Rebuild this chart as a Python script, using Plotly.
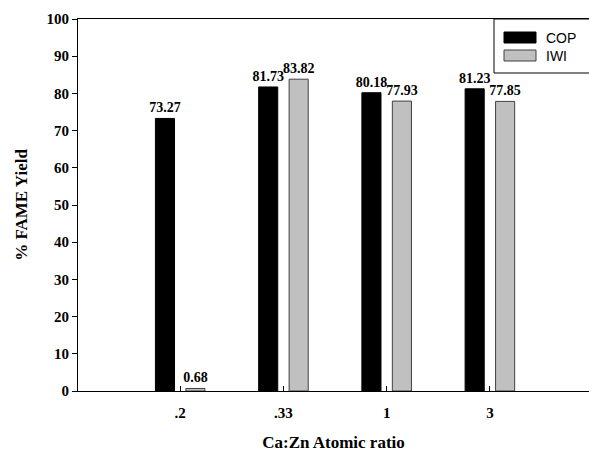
import plotly.graph_objects as go

categories = [".2", ".33", "1", "3"]
cop_values = [73.27, 81.73, 80.18, 81.23]
iwi_values = [0.68, 83.82, 77.93, 77.85]
series_names = ["COP", "IWI"]

W, H = 589, 452
L, R, T, B = 78, 0, 19, 61
pw, ph = W - L - R, H - T - B

def px_x(p):
    return (p - L) / pw

def px_y(p):
    return (H - B - p) / ph

serif = "Times New Roman, Liberation Serif, serif"
sans = "Arial, Liberation Sans, sans-serif"

fig = go.Figure()
fig.add_trace(go.Bar(
    x=categories, y=cop_values, name=series_names[0],
    marker=dict(color="black", line=dict(color="black", width=1)),
    width=0.185, offset=-0.24,
    text=[f"{v:.2f}" for v in cop_values], textposition="outside",
    constraintext="none",
    textfont=dict(family=serif, size=14, color="black", weight="bold"),
    cliponaxis=False, showlegend=False, hoverinfo="skip",
))
fig.add_trace(go.Bar(
    x=categories, y=iwi_values, name=series_names[1],
    marker=dict(color="#c0c0c0", line=dict(color="#404040", width=1)),
    width=0.185, offset=0.055,
    text=[f"{v:.2f}" for v in iwi_values], textposition="outside",
    constraintext="none",
    textfont=dict(family=serif, size=14, color="black", weight="bold"),
    cliponaxis=False, showlegend=False, hoverinfo="skip",
))

fig.update_layout(
    width=W, height=H,
    margin=dict(l=L, r=R, t=T, b=B, pad=0, autoexpand=False),
    plot_bgcolor="white", paper_bgcolor="white",
    barmode="group",
    uniformtext=dict(mode=False),
    xaxis=dict(
        type="category", range=[-0.99, 3.96],
        showline=True, linecolor="black", linewidth=1, mirror=True,
        ticks="inside", ticklen=5, tickcolor="black",
        tickfont=dict(family=serif, size=15, color="black", weight="bold"),
        ticklabelstandoff=8,
        title=dict(text="Ca:Zn Atomic ratio", standoff=16,
                   font=dict(family=serif, size=17, color="black", weight="bold")),
        showgrid=False, zeroline=False,
    ),
    yaxis=dict(
        range=[0, 100], dtick=10,
        showline=True, linecolor="black", linewidth=1,
        ticks="outside", ticklen=5, tickcolor="black",
        tickfont=dict(family=serif, size=15, color="black", weight="bold"),
        title=dict(text="% FAME Yield", standoff=14,
                   font=dict(family=serif, size=17, color="black", weight="bold")),
        showgrid=False, zeroline=False,
    ),
)

# custom legend box
shapes = [
    dict(type="rect", xref="paper", yref="paper",
         x0=px_x(494), x1=px_x(600), y0=px_y(73), y1=px_y(19),
         line=dict(color="black", width=1), fillcolor="white", layer="above"),
    dict(type="rect", xref="paper", yref="paper",
         x0=px_x(504), x1=px_x(536), y0=px_y(43), y1=px_y(32),
         line=dict(color="black", width=1), fillcolor="black", layer="above"),
    dict(type="rect", xref="paper", yref="paper",
         x0=px_x(504), x1=px_x(536), y0=px_y(61), y1=px_y(50),
         line=dict(color="#404040", width=1), fillcolor="#c0c0c0", layer="above"),
]
annotations = [
    dict(text=series_names[0], xref="paper", yref="paper", x=px_x(544), y=px_y(38),
         xanchor="left", yanchor="middle", showarrow=False,
         font=dict(family=sans, size=14, color="black")),
    dict(text=series_names[1], xref="paper", yref="paper", x=px_x(544), y=px_y(56),
         xanchor="left", yanchor="middle", showarrow=False,
         font=dict(family=sans, size=14, color="black")),
]
fig.update_layout(shapes=shapes, annotations=annotations)

fig.write_html("out.html", config={"displayModeBar": False},
               post_script="document.body.style.margin='0px';document.body.style.padding='0px';")
